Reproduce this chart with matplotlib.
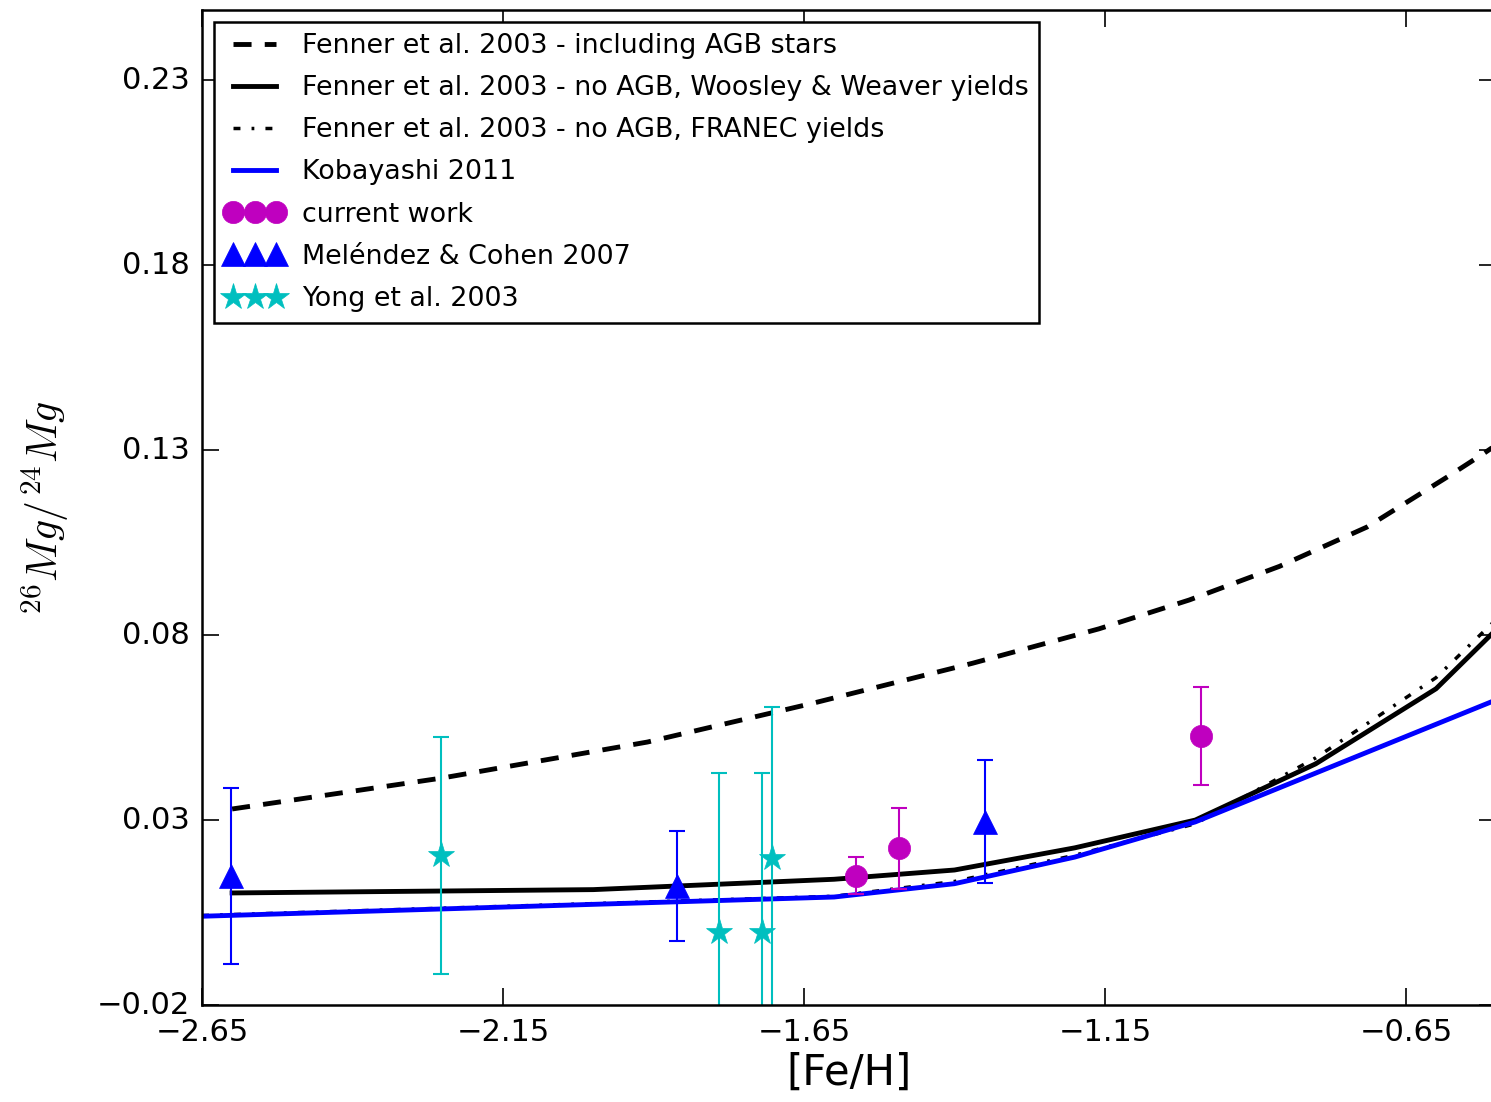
import matplotlib
matplotlib.use("Agg")
import matplotlib.pyplot as plt

# model curves, [Fe/H] vs 26Mg/24Mg
agb_feh = [-2.60, -2.25, -1.91, -1.635, -1.37, -1.16, -1.01, -0.86, -0.715, -0.577, -0.52, -0.45]
agb_ratio = [0.0330, 0.0414, 0.0511, 0.0616, 0.0724, 0.0817, 0.0895, 0.0986, 0.1092, 0.1232, 0.1292, 0.1370]

ww_feh = [-2.60, -2.00, -1.60, -1.40, -1.20, -1.00, -0.80, -0.60, -0.40]
ww_ratio = [0.0103, 0.0112, 0.0140, 0.0165, 0.0225, 0.0300, 0.0452, 0.0655, 0.0975]

franec_feh = [-2.65, -1.60, -1.40, -1.20, -1.00, -0.80, -0.60, -0.40]
franec_ratio = [0.0042, 0.0094, 0.0134, 0.0205, 0.0290, 0.0468, 0.0685, 0.1000]

kob_feh = [-2.65, -1.60, -1.40, -1.20, -1.00, -0.50]
kob_ratio = [0.0040, 0.0092, 0.0128, 0.0200, 0.0295, 0.0625]

# observations
cur_feh = [-1.564, -1.492, -0.991]
cur_ratio = [0.0149, 0.0224, 0.0527]
cur_err = [0.0050, 0.0110, 0.0133]

mel_feh = [-2.602, -1.861, -1.349]
mel_ratio = [0.0148, 0.0122, 0.0296]
mel_err = [0.0238, 0.0149, 0.0166]

yong_feh = [-2.253, -1.791, -1.720, -1.703]
yong_ratio = [0.0205, -0.0003, -0.0003, 0.0197]
yong_err = [0.0320, 0.0430, 0.0430, 0.0408]

xticks = [-2.65, -2.15, -1.65, -1.15, -0.65]
yticks = [-0.02, 0.03, 0.08, 0.13, 0.18, 0.23]

plt.style.use("classic")
plt.rcParams["figure.facecolor"] = "white"
plt.rcParams["mathtext.fontset"] = "cm"
plt.rcParams["lines.scale_dashes"] = False


def fmt(v):
    return ("%.2f" % v).replace("-", u"\u2212")


fig = plt.figure(figsize=(14.91, 11.02), dpi=100)
ax = fig.add_axes([0.1355, 0.088, 0.868, 0.9029])

ax.plot(agb_feh, agb_ratio, "k--", lw=3.5, dashes=(13, 9.5),
        label="Fenner et al. 2003 - including AGB stars")
ax.plot(ww_feh, ww_ratio, "k-", lw=3.5,
        label="Fenner et al. 2003 - no AGB, Woosley & Weaver yields")
ax.plot(franec_feh, franec_ratio, "k-.", lw=2.5, dashes=(5, 8, 2, 8),
        label="Fenner et al. 2003 - no AGB, FRANEC yields")
ax.plot(kob_feh, kob_ratio, "b-", lw=3.5, label="Kobayashi 2011")

# error bars first, markers on top (legend shows markers only)
ax.errorbar(cur_feh, cur_ratio, yerr=cur_err, fmt="none", ecolor="m",
            elinewidth=1.5, capsize=6, capthick=1.5)
ax.errorbar(mel_feh, mel_ratio, yerr=mel_err, fmt="none", ecolor="b",
            elinewidth=1.5, capsize=6, capthick=1.5)
ax.errorbar(yong_feh, yong_ratio, yerr=yong_err, fmt="none", ecolor="c",
            elinewidth=1.5, capsize=6, capthick=1.5)
ax.plot(cur_feh, cur_ratio, "o", color="m", mec="m", ms=16, label="current work")
ax.plot(mel_feh, mel_ratio, "^", color="b", mec="b", ms=17,
        label=u"Mel\u00e9ndez & Cohen 2007")
ax.plot(yong_feh, yong_ratio, "*", color="c", mec="c", ms=20, label="Yong et al. 2003")

ax.set_xlim(-2.65, -0.50)
ax.set_ylim(-0.02, 0.249)
ax.set_xticks(xticks)
ax.set_yticks(yticks)
ax.set_xticklabels([fmt(v) for v in xticks])
ax.set_yticklabels([fmt(v) for v in yticks])
ax.tick_params(labelsize=22, length=12, width=1.2, pad=9, direction="in",
               top=True, right=True)
for sp in ax.spines.values():
    sp.set_linewidth(1.8)

ax.set_xlabel("[Fe/H]", fontsize=30, labelpad=4)
ax.set_ylabel(r"$^{26}Mg/^{24}Mg$", fontsize=30, labelpad=18)

leg = ax.legend(loc="upper left", numpoints=3, fontsize=19.4, labelspacing=0.6,
                handlelength=2.2, handletextpad=0.65, borderaxespad=0.45,
                borderpad=0.4, fancybox=False)
leg.get_frame().set_linewidth(1.8)
leg.get_frame().set_edgecolor("black")

fig.savefig("out.png", dpi=100)
